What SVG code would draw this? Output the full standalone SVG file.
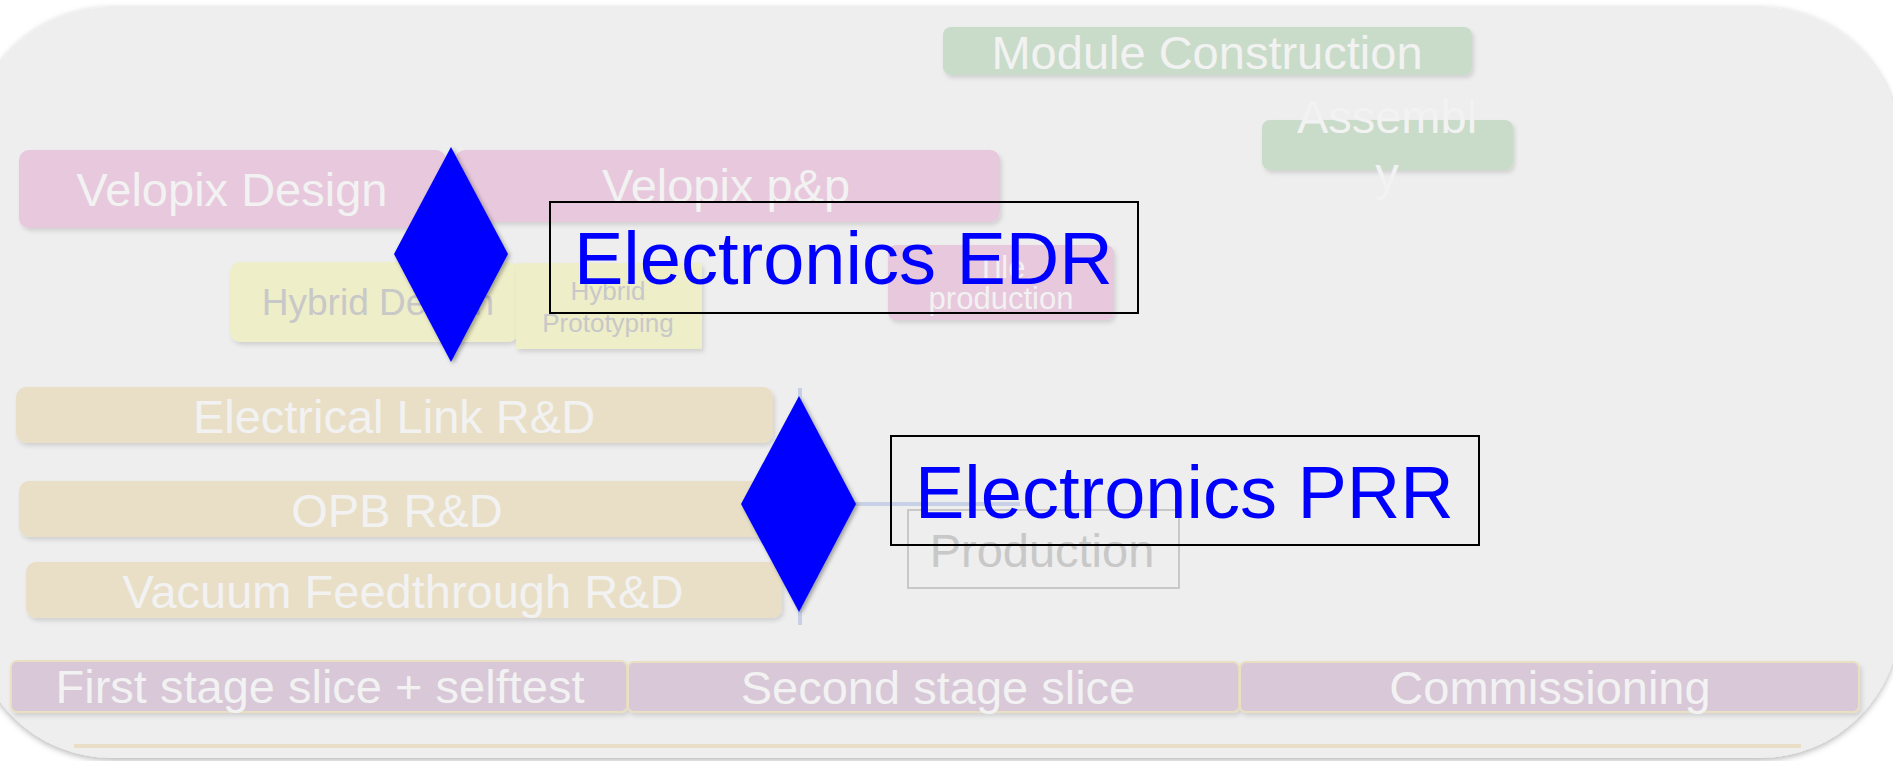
<svg xmlns="http://www.w3.org/2000/svg" width="1893" height="761" viewBox="0 0 1893 761">
<defs>
<filter id="panelShadow" x="-5%" y="-5%" width="110%" height="110%">
<feDropShadow dx="0" dy="2" stdDeviation="3" flood-color="#000" flood-opacity="0.3"/>
</filter>
<filter id="boxShadow" x="-5%" y="-10%" width="110%" height="130%">
<feDropShadow dx="2" dy="3" stdDeviation="2" flood-color="#000" flood-opacity="0.12"/>
</filter>
<filter id="diaShadow" x="-20%" y="-10%" width="140%" height="120%">
<feDropShadow dx="2" dy="2" stdDeviation="2" flood-color="#000" flood-opacity="0.35"/>
</filter>
<style>
text { font-family: "Liberation Sans", Arial, sans-serif; }
.t47 { font-size: 47px; fill: #f2f2f2; text-anchor: middle; }
.pink { fill: #e8c8dc; filter: url(#boxShadow); }
.green { fill: #c9dcc9; filter: url(#boxShadow); }
.yellow { fill: #eeeec9; filter: url(#boxShadow); }
.tan { fill: #e9dfc7; filter: url(#boxShadow); }
.purple { fill: #d8c8d8; stroke: #e9dfc2; stroke-width: 2; filter: url(#boxShadow); }
.grey { fill: #c8c8c8; text-anchor: middle; }
.dia { fill: #0000ff; filter: url(#diaShadow); }
.lbl { fill: none; stroke: #000; stroke-width: 2; }
.lbltext { font-size: 74px; fill: #0000ff; }
.conn { stroke: #c8d0e8; stroke-width: 4; fill: none; }
</style>
</defs>
<rect x="-28" y="7" width="1928" height="751" rx="140" ry="140" fill="#eeeeee" filter="url(#panelShadow)"/>
<line x1="74" y1="746" x2="1801" y2="746" stroke="#e9dfc7" stroke-width="4"/>

<g id="module-construction">
<rect class="green" x="943" y="27" width="529" height="48" rx="8"/>
<text class="t47" x="1207" y="69">Module Construction</text>
</g>
<g id="assembly">
<rect class="green" x="1262" y="120" width="251" height="50" rx="8"/>
<text class="t47" x="1387" y="133">Assembl</text>
<text class="t47" x="1387" y="190">y</text>
</g>
<g id="velopix-design">
<rect class="pink" x="19" y="150" width="427" height="78" rx="10"/>
<text class="t47" x="232" y="206">Velopix Design</text>
</g>
<g id="velopix-pp">
<rect class="pink" x="455" y="150" width="545" height="72" rx="10"/>
<text class="t47" x="726" y="202">Velopix p&amp;p</text>
</g>
<g id="tile-production">
<rect class="pink" x="888" y="245" width="226" height="75" rx="8"/>
<text class="t47" x="1001" y="278" style="font-size:31px">Tile</text>
<text class="t47" x="1001" y="309" style="font-size:31px">production</text>
</g>
<g id="hybrid-design">
<rect class="yellow" x="230" y="262" width="288" height="80" rx="10"/>
<text class="grey" x="378" y="315" style="font-size:37px">Hybrid Design</text>
</g>
<g id="hybrid-prototyping">
<rect class="yellow" x="516" y="263" width="186" height="86" rx="2"/>
<text class="grey" x="608" y="300" style="font-size:26px">Hybrid</text>
<text class="grey" x="608" y="332" style="font-size:26px">Prototyping</text>
</g>
<g id="electrical-link">
<rect class="tan" x="16" y="387" width="757" height="56" rx="10"/>
<text class="t47" x="394" y="433">Electrical Link R&amp;D</text>
</g>
<g id="opb">
<rect class="tan" x="19" y="481" width="756" height="56" rx="10"/>
<text class="t47" x="397" y="527">OPB R&amp;D</text>
</g>
<g id="vacuum">
<rect class="tan" x="26" y="562" width="756" height="56" rx="10"/>
<text class="t47" x="403" y="608">Vacuum Feedthrough R&amp;D</text>
</g>
<g id="first-stage">
<rect class="purple" x="11" y="661" width="616" height="51" rx="6"/>
<text class="t47" x="320" y="703">First stage slice + selftest</text>
</g>
<g id="second-stage">
<rect class="purple" x="628" y="662" width="611" height="50" rx="6"/>
<text class="t47" x="938" y="704">Second stage slice</text>
</g>
<g id="commissioning">
<rect class="purple" x="1240" y="662" width="619" height="50" rx="6"/>
<text class="t47" x="1550" y="704">Commissioning</text>
</g>

<g id="connectors">
<line class="conn" x1="800" y1="388" x2="800" y2="625"/>
<line class="conn" x1="800" y1="504" x2="1020" y2="504"/>
</g>

<g id="production">
<rect x="908" y="510" width="271" height="78" fill="none" stroke="#c8c8c8" stroke-width="2"/>
<text class="grey" x="1042" y="567" style="font-size:47px">Production</text>
</g>

<g id="edr-milestone">
<polygon class="dia" points="451,147 508,254 451,362 394,254"/>
</g>
<g id="prr-milestone">
<polygon class="dia" points="799,396 856,504 799,612 741,504"/>
</g>

<g id="edr-label">
<rect class="lbl" x="550" y="202" width="588" height="111"/>
<text class="lbltext" x="574" y="284">Electronics EDR</text>
</g>
<g id="prr-label">
<rect class="lbl" x="891" y="436" width="588" height="109"/>
<text class="lbltext" x="915" y="518">Electronics PRR</text>
</g>
</svg>
